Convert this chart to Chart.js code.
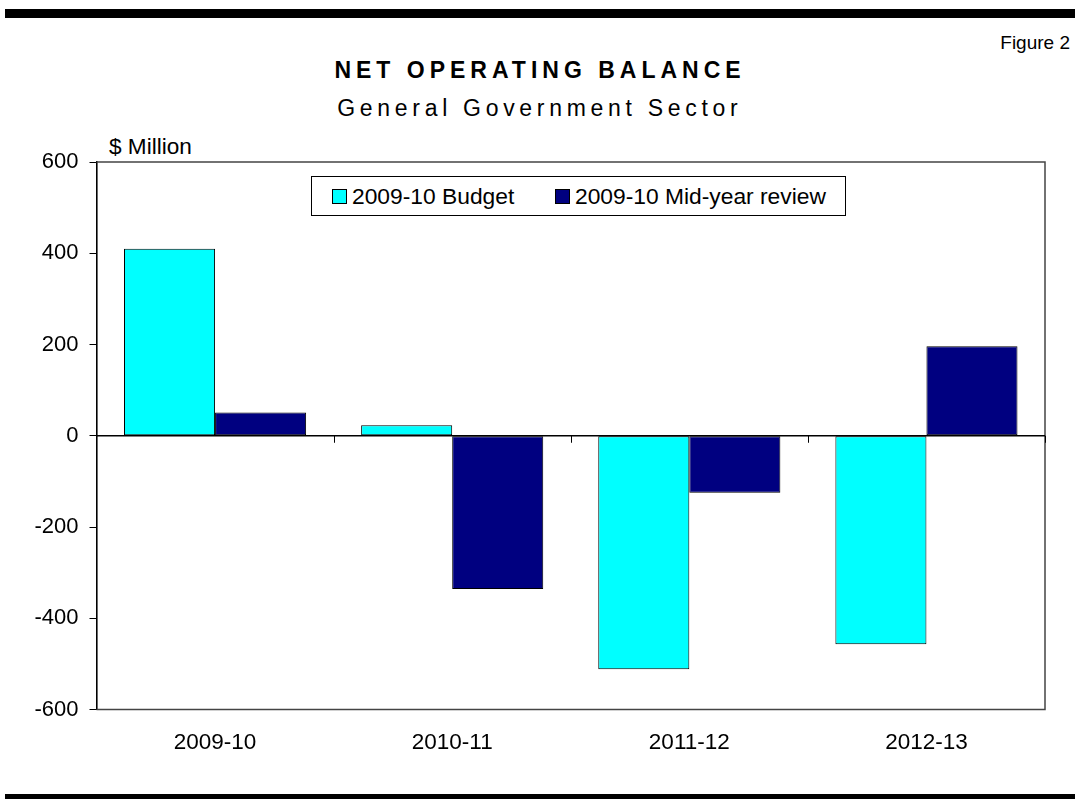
<!DOCTYPE html>
<html>
<head>
<meta charset="utf-8">
<script src="https://cdn.jsdelivr.net/npm/chart.js@4.4.1/dist/chart.umd.min.js"></script>
<style>
  html,body{margin:0;padding:0;background:#fff;}
  body{width:1075px;height:799px;position:relative;overflow:hidden;font-family:Arial,"Liberation Sans",sans-serif;color:#000;}
  #c{position:absolute;left:0;top:0;}
  .rule{position:absolute;left:5px;right:0;height:9px;background:#000;}
  .txt{position:absolute;white-space:nowrap;}
  #title{left:0;width:1075px;top:59px;text-align:center;font-size:23px;line-height:23px;font-weight:bold;letter-spacing:5px;padding-left:5px;box-sizing:border-box;}
  #subtitle{left:0;width:1075px;top:97px;text-align:center;font-size:23px;line-height:23px;letter-spacing:4.7px;padding-left:4.7px;box-sizing:border-box;}
  #fig{right:5px;top:33px;font-size:19px;line-height:19px;}
  #unit{left:109px;top:136px;font-size:22.6px;line-height:22px;}
  #legend{position:absolute;left:311px;top:176px;width:535px;height:40px;border:1px solid #000;box-sizing:border-box;background:#fff;font-size:22.8px;}
  .item{display:flex;align-items:center;position:absolute;top:0;height:38px;}
  .sw{width:13px;height:13px;border:1px solid #000;margin-right:5px;}
</style>
</head>
<body>
<div class="rule" style="top:9px"></div>
<div class="rule" style="top:794px"></div>
<div class="txt" id="fig">Figure 2</div>
<div class="txt" id="title">NET OPERATING BALANCE</div>
<div class="txt" id="subtitle">General Government Sector</div>
<div class="txt" id="unit">$ Million</div>
<canvas id="c" width="1075" height="799"></canvas>
<div id="legend"></div>
<script>
const categories = ["2009-10", "2010-11", "2011-12", "2012-13"];
const seriesNames = ["2009-10 Budget", "2009-10 Mid-year review"];
const budget = [410, 23, -512, -457];
const midYear = [51, -336, -125, 196];
const yTicks = [-600, -400, -200, 0, 200, 400, 600];
const colors = ["#00FFFF", "#000080"];

// HTML legend built from series names
const lg = document.getElementById('legend');
const lgPos = [20, 243];
seriesNames.forEach((n, i) => {
  const it = document.createElement('div');
  it.className = 'item';
  it.style.left = lgPos[i] + 'px';
  const sw = document.createElement('span');
  sw.className = 'sw';
  sw.style.background = colors[i];
  const t = document.createElement('span');
  t.textContent = n;
  it.appendChild(sw); it.appendChild(t);
  lg.appendChild(it);
});

const framePlugin = {
  id: 'frame',
  afterDatasetsDraw(chart) {
    const {ctx, chartArea: a, scales} = chart;
    const y0 = scales.y.getPixelForValue(0);
    ctx.save();
    ctx.strokeStyle = '#444';
    ctx.lineWidth = 1.5;
    ctx.beginPath();
    ctx.moveTo(a.left, a.top); ctx.lineTo(a.right, a.top);
    ctx.lineTo(a.right, a.bottom); ctx.lineTo(a.left, a.bottom);
    ctx.stroke();
    ctx.strokeStyle = '#000';
    ctx.lineWidth = 1.3;
    ctx.beginPath();
    ctx.moveTo(a.left, y0); ctx.lineTo(a.right, y0);
    ctx.stroke();
    ctx.lineWidth = 1;
    const xs = scales.x;
    const step = xs.getPixelForValue(1) - xs.getPixelForValue(0);
    for (let i = 0; i < categories.length; i++) {
      const px = xs.getPixelForValue(i) + step / 2;
      ctx.beginPath();
      ctx.moveTo(Math.round(px) + 0.5, y0);
      ctx.lineTo(Math.round(px) + 0.5, y0 + 7);
      ctx.stroke();
    }
    ctx.restore();
  }
};

new Chart(document.getElementById('c'), {
  type: 'bar',
  data: {
    labels: categories,
    datasets: [
      {label: seriesNames[0], data: budget, backgroundColor: colors[0], borderColor: '#000', borderWidth: 1, borderSkipped: false},
      {label: seriesNames[1], data: midYear, backgroundColor: colors[1], borderColor: '#000', borderWidth: 1, borderSkipped: false}
    ]
  },
  options: {
    responsive: false,
    animation: false,
    devicePixelRatio: 1,
    layout: {padding: {left: 0, right: 30, top: 162, bottom: 29.5}},
    plugins: {legend: {display: false}, title: {display: false}, tooltip: {enabled: false}},
    datasets: {bar: {categoryPercentage: 0.768, barPercentage: 1.0}},
    scales: {
      x: {
        grid: {display: false, drawTicks: false},
        border: {display: false},
        ticks: {color: '#000', font: {family: 'Arial, "Liberation Sans", sans-serif', size: 22.5}, padding: 20, maxRotation: 0},
        afterFit(s) { s.height = 60; }
      },
      y: {
        min: -600, max: 600,
        afterBuildTicks(s) { s.ticks = yTicks.map(v => ({value: v})); },
        grid: {drawOnChartArea: false, drawTicks: true, tickLength: 7, color: '#000', lineWidth: 1},
        border: {display: true, color: '#000', width: 1.6},
        ticks: {color: '#000', font: {family: 'Arial, "Liberation Sans", sans-serif', size: 22}, padding: 11},
        afterFit(s) { s.width = 96.5; }
      }
    }
  },
  plugins: [framePlugin]
});
</script>
</body>
</html>
